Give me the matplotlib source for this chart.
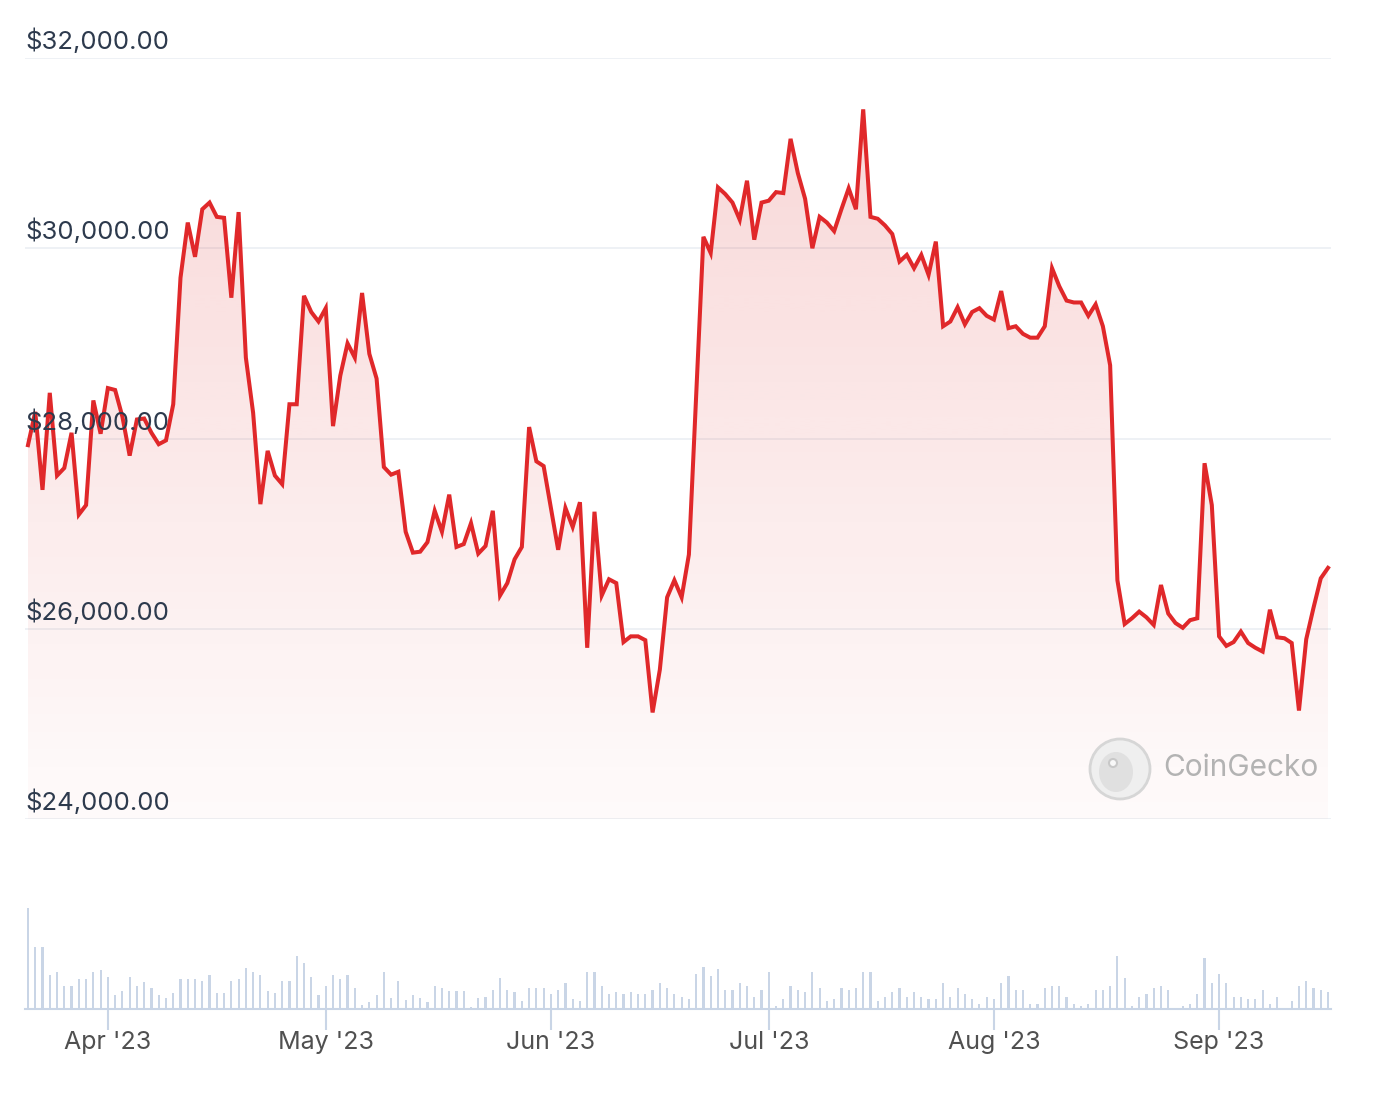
import numpy as np
import pandas as pd
import matplotlib
matplotlib.use('Agg')
import matplotlib.pyplot as plt
import matplotlib.dates as mdates
from matplotlib.patches import Circle, Ellipse

plt.rcParams['font.family'] = ['Inter', 'DejaVu Sans']

# daily BTC price (USD), 21 Mar 2023 -> 16 Sep 2023
dates = pd.date_range('2023-03-21', periods=180, freq='D')
price = [
    27930, 28280, 27460, 28480, 27610, 27690, 28060, 27200, 27300, 28400,
    28050, 28530, 28510, 28230, 27820, 28200, 28210, 28060, 27940, 27980,
    28360, 29690, 30270, 29910, 30410, 30480, 30330, 30320, 29480, 30380,
    28850, 28270, 27310, 27870, 27610, 27520, 28360, 28360, 29500, 29330,
    29230, 29370, 28130, 28660, 29000, 28850, 29530, 28890, 28630, 27700,
    27620, 27650, 27020, 26800, 26810, 26910, 27240, 27020, 27410, 26860,
    26890, 27110, 26790, 26870, 27240, 26350, 26480, 26730, 26860, 28120,
    27760, 27710, 27270, 26830, 27270, 27070, 27330, 25800, 27230, 26350,
    26520, 26480, 25860, 25920, 25920, 25880, 25120, 25570, 26330, 26510,
    26330, 26780, 28450, 30120, 29950, 30640, 30570, 30480, 30300, 30710,
    30090, 30480, 30500, 30590, 30580, 31150, 30790, 30520, 30000, 30330,
    30270, 30180, 30410, 30630, 30410, 31460, 30330, 30310, 30240, 30150,
    29860, 29930, 29790, 29930, 29720, 30070, 29180, 29230, 29380, 29200,
    29330, 29370, 29290, 29250, 29550, 29160, 29180, 29100, 29060, 29060,
    29180, 29790, 29600, 29450, 29430, 29430, 29290, 29410, 29180, 28770,
    26510, 26050, 26110, 26180, 26120, 26040, 26460, 26160, 26060, 26010,
    26090, 26110, 27740, 27300, 25920, 25820, 25860, 25970, 25850, 25800,
    25760, 26200, 25910, 25900, 25850, 25140, 25890, 26220, 26530, 26640,
]
# daily volume (relative bar height)
volume = [
    101, 62, 62, 34, 37, 23, 23, 30, 30, 37, 39, 32, 14, 18, 32, 23, 27, 21, 14, 11,
    16, 30, 30, 30, 28, 34, 16, 16, 28, 30, 41, 37, 34, 18, 16, 28, 28, 53, 46, 32,
    14, 23, 34, 30, 34, 21, 4, 7, 14, 37, 11, 28, 9, 14, 11, 7, 23, 21, 18, 18,
    18, 2, 11, 12, 19, 31, 19, 17, 8, 21, 21, 21, 15, 19, 26, 10, 8, 37, 37, 23,
    15, 17, 15, 17, 15, 15, 19, 26, 21, 15, 12, 10, 35, 42, 33, 40, 19, 19, 26, 23,
    12, 19, 37, 3, 10, 23, 19, 17, 37, 21, 8, 10, 21, 19, 21, 37, 37, 8, 12, 17,
    21, 12, 17, 12, 10, 10, 26, 12, 21, 15, 10, 5, 12, 10, 26, 33, 19, 19, 5, 5,
    21, 23, 23, 12, 5, 3, 5, 19, 19, 23, 53, 31, 3, 12, 15, 21, 23, 19, 1, 3,
    5, 15, 51, 26, 35, 26, 12, 12, 10, 10, 19, 5, 12, 1, 8, 23, 28, 21, 19, 17,
]

price_ticks = [24000, 26000, 28000, 30000, 32000]
month_ticks = pd.date_range('2023-04-01', '2023-09-01', freq='MS')
month_labels = [d.strftime("%b '%y") for d in month_ticks]

W, H = 1386, 1096
fig = plt.figure(figsize=(W / 100, H / 100), dpi=100)


def frac(x0, y0, x1, y1):
    return [x0 / W, 1 - y1 / H, (x1 - x0) / W, (y1 - y0) / H]


ax = fig.add_axes(frac(25, 58, 1331, 819))
axv = fig.add_axes(frac(25, 880, 1331, 1009))

x = mdates.date2num(dates.values)
xt = mdates.date2num(month_ticks.values)
xlim = (x[0] - 0.41, x[-1] + 0.41)

# price area with vertical gradient
red = '#e0282a'
poly = ax.fill_between(x, price, 24000, color='none', lw=0)
grad = np.zeros((256, 1, 4))
grad[..., :3] = matplotlib.colors.to_rgb('#dc2626')
grad[:, 0, 3] = np.linspace(0.19, 0.02, 256)
im = ax.imshow(grad, aspect='auto', extent=[x[0], x[-1], 24000, 32000],
               origin='upper', zorder=1, interpolation='bilinear')
im.set_clip_path(poly.get_paths()[0], transform=ax.transData)
ax.plot(x, price, color=red, lw=2.9, zorder=3, solid_joinstyle='miter')

for v in price_ticks:
    ax.axhline(v, color='#eef1f5', lw=1.4, zorder=0)
    ax.annotate(f'${v:,.2f}', xy=(0, v), xycoords=('axes fraction', 'data'),
                xytext=(0, 4), textcoords='offset pixels', ha='left', va='bottom',
                fontsize=18.5, color='#2d3a4d', zorder=5)

ax.set_xlim(xlim)
ax.set_ylim(24000, 32000)
ax.axis('off')

# volume bars
vcol = '#c9d5e6'
axv.bar(x, volume, width=0.3, color=vcol)
axv.set_xlim(xlim)
axv.set_ylim(0, 129)
for s in ['top', 'left', 'right']:
    axv.spines[s].set_visible(False)
axv.spines['bottom'].set_color(vcol)
axv.spines['bottom'].set_linewidth(1.5)
axv.set_yticks([])
axv.set_xticks(xt)
axv.set_xticklabels(month_labels)
axv.tick_params(axis='x', length=15, width=1.5, color=vcol, labelcolor='#505050',
                labelsize=18, pad=1)
axv.patch.set_alpha(0)

# watermark
ov = fig.add_axes([0, 0, 1, 1])
ov.set_xlim(0, W)
ov.set_ylim(H, 0)
ov.axis('off')
ov.add_patch(Circle((1120, 769), 30, fc='#efefef', ec='#d6d6d6', lw=2))
ov.add_patch(Ellipse((1116, 772), 34, 40, fc='#e0e0e0', ec='none'))
ov.add_patch(Circle((1113, 763), 4, fc='#f8f8f8', ec='#c8c8c8', lw=1.5))
ov.text(1163, 768, 'CoinGecko', fontsize=21.5, color='#b3b3b3', va='center', ha='left')

fig.savefig('out.png', dpi=100)
